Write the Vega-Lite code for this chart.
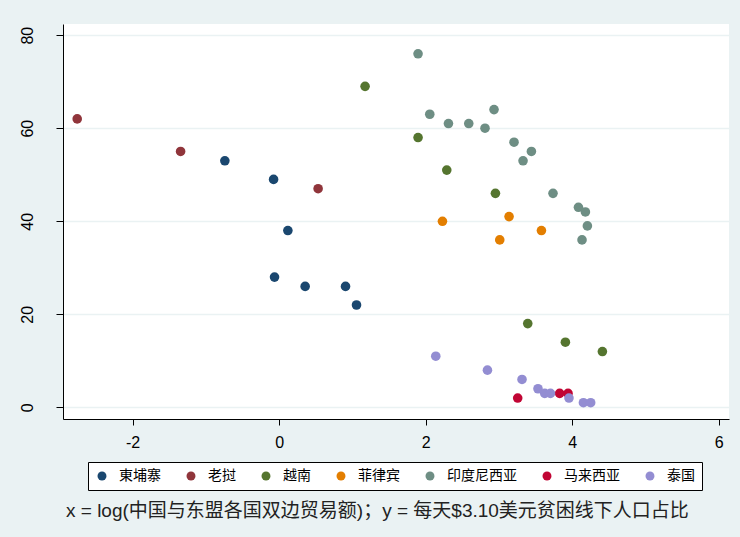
{
  "$schema": "https://vega.github.io/schema/vega-lite/v6.json",
  "width": 666,
  "height": 395,
  "autosize": {"type": "none"},
  "padding": {"left": 63, "top": 24, "right": 11, "bottom": 118},
  "background": "#eaf2f3",
  "title": {
    "text": "x = log(中国与东盟各国双边贸易额)；y = 每天$3.10美元贫困线下人口占比",
    "orient": "bottom",
    "anchor": "start",
    "frame": "group",
    "dx": 3,
    "offset": 11,
    "font": "Liberation Sans, Noto Sans CJK SC",
    "fontSize": 19,
    "fontWeight": "normal",
    "color": "#222222"
  },
  "config": {
    "view": {"fill": "white", "stroke": null},
    "mark": {"opacity": 1},
    "axis": {
      "labelFont": "Liberation Sans",
      "labelFontSize": 16,
      "labelColor": "#000000",
      "domainColor": "#000000",
      "domainWidth": 1,
      "tickColor": "#000000",
      "tickWidth": 1
    },
    "legend": {
      "strokeColor": "#000000",
      "fillColor": "white",
      "cornerRadius": 0,
      "symbolOpacity": 1
    }
  },
  "data": {
    "values": [
      {"country": "東埔寨", "x": -0.741, "y": 53},
      {"country": "東埔寨", "x": -0.076, "y": 49},
      {"country": "東埔寨", "x": 0.119, "y": 38},
      {"country": "東埔寨", "x": -0.063, "y": 28},
      {"country": "東埔寨", "x": 0.355, "y": 26},
      {"country": "東埔寨", "x": 0.906, "y": 26},
      {"country": "東埔寨", "x": 1.056, "y": 22},
      {"country": "老挝", "x": -2.756, "y": 62},
      {"country": "老挝", "x": -1.345, "y": 55},
      {"country": "老挝", "x": 0.532, "y": 47},
      {"country": "越南", "x": 1.173, "y": 69},
      {"country": "越南", "x": 1.896, "y": 58},
      {"country": "越南", "x": 2.288, "y": 51},
      {"country": "越南", "x": 2.952, "y": 46},
      {"country": "越南", "x": 3.393, "y": 18},
      {"country": "越南", "x": 3.907, "y": 14},
      {"country": "越南", "x": 4.412, "y": 12},
      {"country": "菲律宾", "x": 2.229, "y": 40},
      {"country": "菲律宾", "x": 3.138, "y": 41},
      {"country": "菲律宾", "x": 3.58, "y": 38},
      {"country": "菲律宾", "x": 3.011, "y": 36},
      {"country": "印度尼西亚", "x": 1.896, "y": 76},
      {"country": "印度尼西亚", "x": 2.056, "y": 63},
      {"country": "印度尼西亚", "x": 2.311, "y": 61},
      {"country": "印度尼西亚", "x": 2.588, "y": 61},
      {"country": "印度尼西亚", "x": 2.81, "y": 60},
      {"country": "印度尼西亚", "x": 2.933, "y": 64},
      {"country": "印度尼西亚", "x": 3.206, "y": 57},
      {"country": "印度尼西亚", "x": 3.443, "y": 55},
      {"country": "印度尼西亚", "x": 3.329, "y": 53},
      {"country": "印度尼西亚", "x": 3.738, "y": 46},
      {"country": "印度尼西亚", "x": 4.085, "y": 43},
      {"country": "印度尼西亚", "x": 4.18, "y": 42},
      {"country": "印度尼西亚", "x": 4.207, "y": 39},
      {"country": "印度尼西亚", "x": 4.134, "y": 36},
      {"country": "马来西亚", "x": 3.256, "y": 2},
      {"country": "马来西亚", "x": 3.829, "y": 3},
      {"country": "马来西亚", "x": 3.943, "y": 3},
      {"country": "泰国", "x": 2.138, "y": 11},
      {"country": "泰国", "x": 2.843, "y": 8},
      {"country": "泰国", "x": 3.315, "y": 6},
      {"country": "泰国", "x": 3.533, "y": 4},
      {"country": "泰国", "x": 3.625, "y": 3},
      {"country": "泰国", "x": 3.703, "y": 3},
      {"country": "泰国", "x": 3.956, "y": 2},
      {"country": "泰国", "x": 4.153, "y": 1},
      {"country": "泰国", "x": 4.252, "y": 1}
    ]
  },
  "mark": {"type": "circle", "size": 92},
  "encoding": {
    "x": {
      "field": "x",
      "type": "quantitative",
      "scale": {"domain": [-2.95, 6.14], "nice": false, "zero": false},
      "axis": {
        "title": null,
        "values": [-2, 0, 2, 4, 6],
        "labelExpr": "datum.value < 0 ? '-' + abs(datum.value) : '' + datum.value",
        "grid": false,
        "tickSize": 6,
        "labelPadding": 9,
        "labelFlush": false
      }
    },
    "y": {
      "field": "y",
      "type": "quantitative",
      "scale": {"domain": [-2.5, 82.4], "nice": false, "zero": false},
      "axis": {
        "title": null,
        "values": [0, 20, 40, 60, 80],
        "grid": true,
        "gridColor": "#eaf2f3",
        "gridWidth": 1.5,
        "tickSize": 7,
        "labelAngle": -90,
        "labelAlign": "center",
        "labelBaseline": "bottom",
        "labelPadding": 21,
        "labelFlush": false
      }
    },
    "color": {
      "field": "country",
      "type": "nominal",
      "scale": {
        "domain": ["東埔寨", "老挝", "越南", "菲律宾", "印度尼西亚", "马来西亚", "泰国"],
        "range": ["#1a476f", "#90353b", "#55752f", "#e37e00", "#6e8e84", "#c10534", "#938dd2"]
      },
      "legend": {
        "title": null,
        "orient": "none",
        "legendX": 25,
        "legendY": 438,
        "direction": "horizontal",
        "columns": 7,
        "columnPadding": 23,
        "padding": 7,
        "symbolType": "circle",
        "symbolSize": 80,
        "symbolStrokeWidth": 0,
        "labelOffset": 10,
        "labelFont": "Noto Sans CJK SC",
        "labelFontSize": 14,
        "labelColor": "#000000"
      }
    }
  }
}
